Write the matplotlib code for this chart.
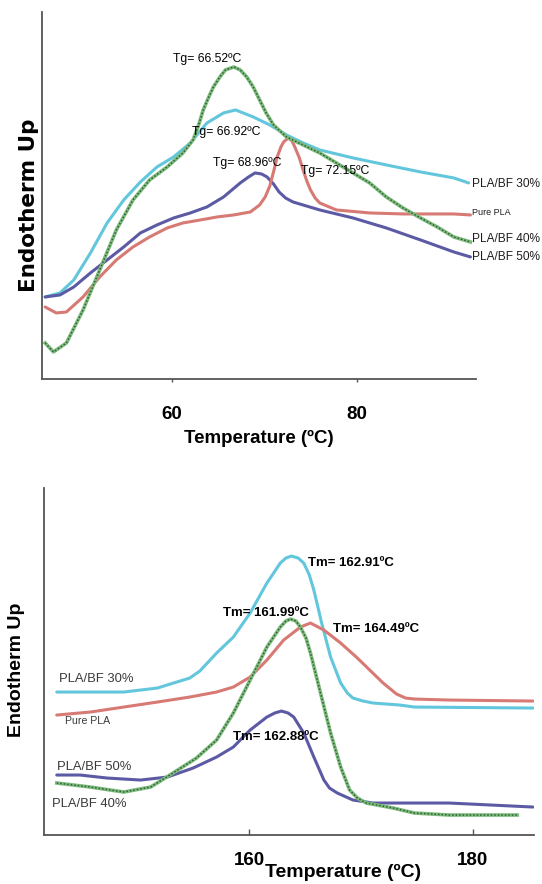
"""DSC thermograms of PLA and PLA/BF composites: glass transition (top) and melting (bottom)."""

import matplotlib
matplotlib.use("Agg")
import matplotlib.pyplot as plt
from matplotlib import font_manager

# ---- data (heat flow in arbitrary units, endotherm up) ----
# glass transition region
tg_pla_t = [46.3, 47.5, 48.6, 50.4, 52.2, 54.0, 55.8, 57.6, 59.5, 61.2, 63.1, 64.9, 66.7,
            68.5, 69.5, 70.1, 70.6, 71.0, 71.4, 71.8, 72.1, 72.6, 73.0, 73.3, 73.8, 74.2,
            74.6, 75.0, 75.5, 76.0, 77.8, 81.4, 85.0, 90.5, 92.3]
tg_pla_y = [72, 66, 67, 82, 102, 119, 132, 142, 151, 156, 159, 162, 164,
            167, 174, 182, 193, 207, 222, 232, 237, 241, 238, 232, 221, 209,
            198, 189, 181, 176, 169, 166, 165, 165, 164]

tg_bf30_t = [46.3, 47.9, 49.4, 51.2, 53.0, 54.8, 56.6, 58.4, 60.2, 62.0, 63.8, 65.6, 66.9,
             68.8, 70.6, 72.4, 74.2, 76.0, 79.6, 83.2, 86.9, 90.5, 92.1]
tg_bf30_y = [82, 86, 99, 126, 156, 179, 197, 212, 222, 236, 256, 266, 269,
             262, 254, 244, 236, 229, 221, 214, 207, 201, 196]

tg_bf40_t = [46.3, 47.2, 48.6, 50.4, 52.2, 54.0, 55.8, 57.6, 59.5, 61.2, 62.3, 62.9, 63.4,
             64.0, 64.5, 65.2, 65.8, 66.7, 67.4, 68.1, 68.8, 69.5, 70.2, 71.0, 72.4, 74.2,
             76.0, 77.8, 79.6, 81.4, 83.2, 85.0, 86.9, 88.7, 90.5, 92.3]
tg_bf40_y = [36, 27, 36, 69, 109, 149, 179, 199, 212, 226, 239, 254, 269,
             282, 292, 302, 309, 312, 309, 302, 292, 279, 266, 254, 242, 234,
             226, 216, 206, 196, 182, 171, 161, 152, 142, 137]

tg_bf50_t = [46.3, 47.9, 49.4, 51.2, 53.0, 54.8, 56.6, 58.4, 60.2, 62.0, 63.8, 65.6, 67.4,
             68.3, 69.0, 69.7, 70.3, 71.0, 71.6, 72.3, 73.1, 76.0, 79.6, 83.2, 86.9, 90.5, 92.3]
tg_bf50_y = [82, 84, 92, 106, 119, 132, 146, 154, 161, 166, 172, 182, 196,
             202, 206, 205, 202, 195, 187, 181, 177, 169, 161, 151, 139, 127, 122]

# melting region
tm_pla_t = [142.8, 145.8, 148.8, 151.8, 154.7, 157.1, 158.6, 160.1, 161.6, 163.1, 164.6,
            165.5, 166.7, 168.2, 169.6, 170.8, 172.0, 173.2, 174.0, 174.8, 177.9, 185.4]
tm_pla_y = [120, 123, 128, 133, 138, 143, 148, 158, 175, 195, 208,
            212, 205, 192, 178, 165, 152, 141, 137, 136, 135, 134]

tm_bf30_t = [142.8, 145.8, 148.8, 151.8, 154.7, 155.6, 157.1, 158.6, 160.1, 161.6, 162.8,
             163.3, 163.8, 164.4, 164.9, 165.4, 165.8, 166.5, 167.3, 168.2, 168.8, 169.3,
             170.2, 171.1, 173.5, 174.8, 185.4]
tm_bf30_y = [143, 143, 143, 147, 157, 164, 182, 198, 222, 252, 272,
             277, 279, 277, 272, 260, 245, 212, 178, 152, 142, 137,
             134, 132, 130, 128, 127]

tm_bf40_t = [142.8, 145.8, 148.8, 151.2, 153.2, 155.3, 157.1, 158.6, 160.1, 161.6, 162.8,
             163.3, 163.7, 164.2, 164.6, 165.1, 165.5, 166.4, 167.3, 168.2, 169.0, 169.7,
             170.5, 172.9, 174.8, 177.9, 184.0]
tm_bf40_y = [52, 48, 43, 48, 62, 77, 95, 122, 155, 188, 208,
             214, 216, 214, 208, 197, 182, 142, 102, 68, 45, 37,
             32, 27, 22, 20, 20]

tm_bf50_t = [142.8, 144.9, 147.3, 150.3, 152.7, 155.0, 157.1, 158.6, 160.1, 161.6, 162.3,
             162.9, 163.5, 164.0, 164.9, 165.8, 166.7, 167.2, 167.9, 169.3, 171.1, 173.5,
             177.9, 185.4]
tm_bf50_y = [60, 60, 57, 55, 58, 67, 78, 88, 105, 118, 122,
             124, 122, 118, 102, 78, 55, 47, 42, 35, 32, 32,
             32, 28]

tg_labels = ["Tg= 66.52ºC", "Tg= 66.92ºC", "Tg= 68.96ºC", "Tg= 72.15ºC"]
tm_labels = ["Tm= 162.91ºC", "Tm= 161.99ºC", "Tm= 164.49ºC", "Tm= 162.88ºC"]

CYAN = "#62c6dc"
RED = "#d77a74"
BLUE = "#5c5aa4"
GREEN = "#7dbb7d"
GREEN_DARK = "#2f5f33"

names = {f.name for f in font_manager.fontManager.ttflist}
NARROW = "Liberation Sans Narrow" if "Liberation Sans Narrow" in names else "Liberation Sans"
ARIAL = "Liberation Sans"


def draw_green(ax, t, y):
    ax.plot(t, y, color=GREEN, lw=2.6, solid_joinstyle="round")
    ax.plot(t, y, color=GREEN_DARK, lw=1.1, linestyle=(0, (1, 1.3)))


def draw(ax, t, y, color):
    ax.plot(t, y, color=color, lw=2.2, solid_joinstyle="round", solid_capstyle="round")


def style_axes(ax):
    for side in ("top", "right"):
        ax.spines[side].set_visible(False)
    for side in ("left", "bottom"):
        ax.spines[side].set_color("#555555")
        ax.spines[side].set_linewidth(1.3)
    ax.set_yticks([])


fig = plt.figure(figsize=(5.42, 8.84), dpi=100)

# ---- top: glass transition ----
ax1 = fig.add_axes([0.0775, 0.5713, 0.8007, 0.4152])
style_axes(ax1)
draw(ax1, tg_bf30_t, tg_bf30_y, CYAN)
draw(ax1, tg_bf50_t, tg_bf50_y, BLUE)
draw(ax1, tg_pla_t, tg_pla_y, RED)
draw_green(ax1, tg_bf40_t, tg_bf40_y)
ax1.set_xlim(45.96, 92.9)
ax1.set_ylim(0, 367)
ax1.set_xticks([60, 80])
ax1.set_xticklabels(["60", "80"], fontfamily=NARROW, fontweight="bold", fontsize=13.5)
ax1.tick_params(axis="x", direction="out", length=2.2, width=1, color="#555555", pad=17)
ax1.set_xlabel("Temperature (ºC)", fontfamily=NARROW, fontweight="bold", fontsize=13.5, va="center")
ax1.xaxis.set_label_coords(0.499, -0.161)
ax1.set_ylabel("Endotherm Up", fontfamily="DejaVu Sans", fontweight="bold", fontsize=15.5, va="center")
ax1.yaxis.set_label_coords(-0.030, 0.474)

tg_pos = [(60.16, 319.7), (62.15, 247.3), (64.49, 215.7), (74.0, 208.3)]
for txt, (x, y) in zip(tg_labels, tg_pos):
    ax1.text(x, y, txt, fontfamily=NARROW, fontsize=8.8, color="black", va="center", ha="left")

side_labels = [("PLA/BF 30%", 195, 8.6), ("Pure PLA", 166.7, 6.5), ("PLA/BF 40%", 140, 8.6),
               ("PLA/BF 50%", 122.3, 8.6)]
for txt, y, fs in side_labels:
    ax1.text(92.44, y, txt, fontfamily=NARROW, fontsize=fs, color="#1e1e1e", va="center",
             ha="left", clip_on=False)

# ---- bottom: melting ----
ax2 = fig.add_axes([0.0812, 0.0554, 0.9041, 0.3925])
style_axes(ax2)
draw(ax2, tm_bf30_t, tm_bf30_y, CYAN)
draw(ax2, tm_pla_t, tm_pla_y, RED)
draw(ax2, tm_bf50_t, tm_bf50_y, BLUE)
draw_green(ax2, tm_bf40_t, tm_bf40_y)
ax2.set_xlim(141.66, 185.5)
ax2.set_ylim(0, 347)
ax2.set_xticks([160, 180])
ax2.set_xticklabels(["160", "180"], fontfamily=ARIAL, fontweight="bold", fontsize=13.5)
ax2.tick_params(axis="x", direction="in", length=4.5, width=1, color="#555555", pad=12)
ax2.set_xlabel("Temperature (ºC)", fontfamily=ARIAL, fontweight="bold", fontsize=14, va="center")
ax2.xaxis.set_label_coords(0.611, -0.108)
ax2.set_ylabel("Endotherm Up", fontfamily=ARIAL, fontweight="bold", fontsize=14, va="center")
ax2.yaxis.set_label_coords(-0.057, 0.476)

tm_pos = [(165.31, 272.3), (157.71, 221.7), (167.55, 205.7), (158.6, 98.3)]
for txt, (x, y) in zip(tm_labels, tm_pos):
    ax2.text(x, y, txt, fontfamily=ARIAL, fontweight="bold", fontsize=9.5, color="black",
             va="center", ha="left")

left_labels = [("PLA/BF 30%", 143.04, 155.7, 9.4), ("Pure PLA", 143.55, 114, 7.6),
               ("PLA/BF 50%", 142.86, 68.3, 9.4), ("PLA/BF 40%", 142.41, 31, 9.4)]
for txt, x, y, fs in left_labels:
    ax2.text(x, y, txt, fontfamily=ARIAL, fontsize=fs, color="#3a3a3a", va="center", ha="left")

fig.savefig("out.png", dpi=100)
plt.close(fig)
